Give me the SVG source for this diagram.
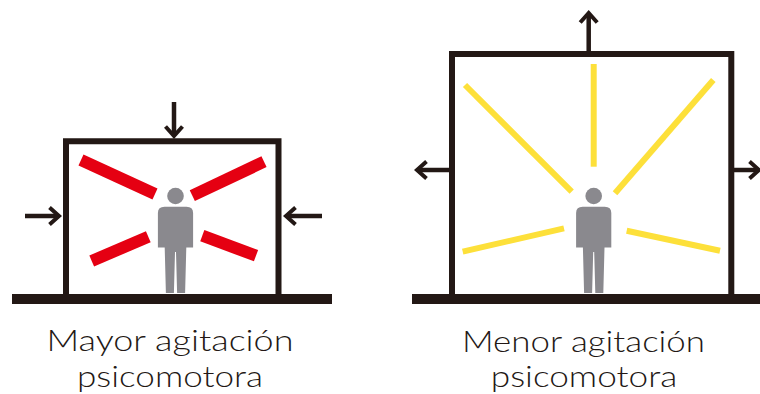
<svg xmlns="http://www.w3.org/2000/svg" xmlns:xlink="http://www.w3.org/1999/xlink" width="760" height="394" viewBox="0 0 760 394">
  <style>
    .wall { fill: none; stroke: #231815; stroke-width: 6; stroke-linejoin: miter; }
    .ground { fill: #231815; }
    .arrow { fill: none; stroke: #231815; stroke-width: 4.5; marker-end: url(#head); }
    .red { stroke: #e50012; stroke-width: 12; stroke-linecap: butt; }
    .yellow { stroke: #fde03a; stroke-width: 6; stroke-linecap: butt; }
    .person { fill: #8a898e; }
    .label { font-family: Lato, "Noto Sans", "DejaVu Sans", sans-serif; font-weight: 300; font-size: 29px; fill: #231815; text-anchor: middle; }
  </style>
  <defs>
    <marker id="head" markerUnits="userSpaceOnUse" viewBox="-14 -12 22 24" markerWidth="22" markerHeight="24" refX="0" refY="0" orient="auto" overflow="visible">
      <polyline points="-8.5,-8.5 1,0 -8.5,8.5" fill="none" stroke="#231815" stroke-width="4" stroke-linejoin="miter" stroke-miterlimit="6"/>
    </marker>
    <g id="person" class="person">
      <circle cx="0" cy="196" r="8.3"/>
      <path d="M -17.6,247.5 L -17.6,213 Q -17.6,206.8 -11,206.8 L 11,206.8 Q 17.6,206.8 17.6,213 L 17.6,247.5 L 10.8,247.5 L 9.6,293 L 1.6,293 L 0.5,252 L -0.5,252 L -1.6,293 L -9.6,293 L -10.8,247.5 Z"/>
    </g>
  </defs>

  <g id="node-mayor">
    <path class="wall" d="M66,296 V141.3 H278.5 V296"/>
    <rect class="ground" x="12" y="294" width="320" height="10"/>
    <line class="red" x1="81" y1="160" x2="155" y2="194"/>
    <line class="red" x1="264" y1="161.7" x2="192.3" y2="195.7"/>
    <line class="red" x1="91.7" y1="261" x2="148.3" y2="236.7"/>
    <line class="red" x1="256" y1="255.7" x2="202.3" y2="235.7"/>
    <use xlink:href="#person" href="#person" x="175.5" y="0"/>
    <text class="label" x="170" y="351" textLength="247" lengthAdjust="spacingAndGlyphs">Mayor agitación</text>
    <text class="label" x="170" y="386.5" textLength="186" lengthAdjust="spacingAndGlyphs">psicomotora</text>
  </g>

  <g id="node-menor">
    <path class="wall" d="M452,296 V54 H731.3 V296"/>
    <rect class="ground" x="412" y="294" width="348" height="10"/>
    <line class="yellow" x1="593.7" y1="64" x2="593.7" y2="166.7"/>
    <line class="yellow" x1="465" y1="85" x2="571.7" y2="191.7"/>
    <line class="yellow" x1="713.3" y1="80" x2="615" y2="193.3"/>
    <line class="yellow" x1="462.7" y1="251.7" x2="564" y2="228.3"/>
    <line class="yellow" x1="720" y1="250.7" x2="626.7" y2="230.7"/>
    <use xlink:href="#person" href="#person" x="593.7" y="0"/>
    <text class="label" x="583.5" y="351.5" textLength="243" lengthAdjust="spacingAndGlyphs">Menor agitación</text>
    <text class="label" x="584" y="386.5" textLength="186.5" lengthAdjust="spacingAndGlyphs">psicomotora</text>
  </g>

  <g id="connectors">
    <path class="arrow" d="M174,102 V135"/>
    <path class="arrow" d="M25,216 H58"/>
    <path class="arrow" d="M322,216 H287"/>
    <path class="arrow" d="M588.7,51 V14"/>
    <path class="arrow" d="M449,170 H418"/>
    <path class="arrow" d="M734,170 H758"/>
  </g>
</svg>
